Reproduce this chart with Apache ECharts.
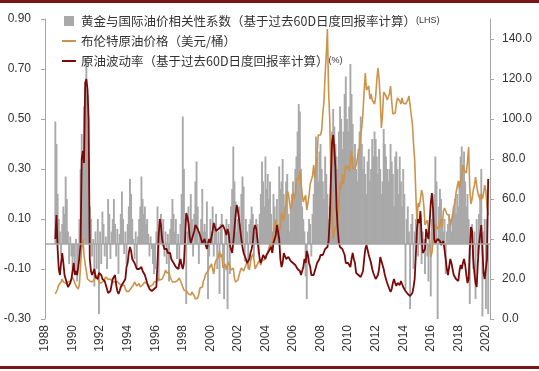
<!DOCTYPE html>
<html>
<head>
<meta charset="utf-8">
<script src="https://cdn.jsdelivr.net/npm/echarts@6/dist/echarts.min.js"></script>
<style>html,body{margin:0;padding:0;background:#fff;}#c{width:539px;height:371px;}</style>
</head>
<body>
<div id="c"></div>
<script>
// Monthly observations starting Oct 1988 (decimal year)
const startYear = 1988.75;
const xTickLabels = [1988,1990,1992,1994,1996,1998,2000,2002,2004,2006,2008,2010,2012,2014,2016,2018,2020];
const leftTicks = [-0.3,-0.1,0.1,0.3,0.5,0.7,0.9];
const rightTicks = [0,20,40,60,80,100,120,140];

const seriesNames = [
  '黄金与国际油价相关性系数（基于过去60D日度回报率计算）(LHS)',
  '布伦特原油价格（美元/桶）',
  '原油波动率（基于过去60D日度回报率计算）(%)'
];

// Gold / oil correlation (LHS)
const corrValues = [
  0.49,0.40,0.20,
  0.10,0.05,-0.05,0.08,0.15,0.12,0.27,0.18,0.05,-0.08,0.03,-0.05,
  -0.10,-0.05,-0.12,0.02,-0.15,-0.08,0.10,0.30,0.44,0.35,0.55,0.62,
  0.74,0.60,0.35,0.15,0.10,-0.05,0.02,-0.17,0.05,-0.10,0.10,-0.28,
  0.05,-0.08,0.13,0.08,-0.05,0.03,-0.10,0.18,0.12,-0.06,0.05,0.10,
  0.18,0.08,-0.05,0.06,-0.12,0.04,0.12,0.21,0.10,-0.04,0.05,-0.08,
  0.08,0.15,0.26,0.20,0.10,0.02,-0.06,0.05,-0.10,0.03,0.10,0.15,
  0.27,0.18,0.12,0.15,0.08,0.10,0.04,-0.05,0.03,-0.02,-0.08,-0.12,
  -0.10,0.05,0.15,-0.15,0.08,0.12,0.03,0.10,-0.05,0.05,-0.08,0.04,
  -0.15,0.06,0.10,0.18,0.12,0.05,0.10,-0.06,0.04,-0.10,0.08,0.20,
  0.51,0.30,0.10,-0.24,0.05,0.15,0.08,0.20,0.10,-0.05,0.12,0.25,
  0.33,0.15,-0.08,0.05,0.10,0.22,0.05,0.08,0.05,0.17,-0.22,-0.05,
  0.10,0.05,0.15,-0.05,0.08,0.12,-0.10,0.05,-0.20,0.08,0.12,-0.08,
  -0.22,0.05,0.10,-0.26,0.08,-0.12,0.15,0.22,0.39,0.25,0.17,0.05,
  0.10,0.15,0.08,0.20,0.27,0.23,-0.07,0.10,0.05,-0.10,0.08,0.10,
  0.15,0.12,-0.05,0.05,0.10,0.08,-0.04,0.12,0.20,0.33,0.25,0.15,
  0.35,0.22,0.28,0.18,0.25,0.12,0.05,0.20,0.15,0.10,0.18,0.08,
  0.31,0.22,0.25,0.34,0.20,0.15,0.25,0.28,0.12,0.05,0.15,0.20,
  0.25,0.18,0.30,0.35,0.45,0.56,0.53,0.30,0.15,0.10,0.05,-0.13,
  -0.22,0.05,0.10,0.08,-0.05,0.12,0.20,0.30,0.43,0.35,0.25,0.37,
  0.40,0.30,0.25,0.18,0.35,0.28,0.20,0.10,0.15,0.30,0.45,0.54,
  0.47,0.40,0.35,0.30,0.45,0.55,0.50,0.38,0.45,0.60,0.67,0.50,
  0.45,0.55,0.72,0.60,0.48,0.35,0.40,0.30,0.25,0.38,0.45,0.51,
  0.40,0.30,0.35,0.28,0.20,0.33,0.38,0.25,0.30,0.42,0.35,0.45,
  0.42,0.35,0.28,0.38,0.30,0.20,0.25,0.46,0.40,0.35,0.30,0.25,
  0.30,0.40,0.33,0.28,0.15,0.35,0.37,0.30,0.20,0.35,0.25,0.15,
  0.30,0.20,-0.18,0.10,0.15,0.05,-0.26,0.08,0.12,-0.10,0.05,0.10,
  0.08,-0.05,0.10,0.12,-0.08,0.05,0.02,-0.12,0.06,-0.05,-0.15,0.05,
  -0.21,0.10,0.15,0.20,0.35,0.25,-0.30,0.15,0.22,0.18,0.10,0.05,
  0.10,-0.12,0.05,0.08,0.12,0.10,0.05,0.12,0.15,0.18,0.12,0.20,
  0.15,0.25,0.35,0.39,0.30,0.37,0.25,0.15,0.20,0.10,-0.24,0.05,
  0.08,-0.10,0.05,-0.22,0.10,-0.05,0.12,0.20,0.30,-0.29,0.05,0.10,
  -0.26,0.10,-0.28
];

// Brent price, USD/bbl (RHS)
const brentValues = [
  12.5,13.5,15.0,
  17.0,16.8,18.5,20.0,18.5,17.5,17.8,17.0,18.5,19.5,19.0,20.0,
  21.0,19.5,18.5,16.5,16.5,15.0,17.5,27.0,36.0,40.0,32.0,27.5,
  24.0,20.0,19.0,19.0,19.0,18.5,19.5,19.8,20.5,22.0,20.5,18.5,
  18.0,18.0,17.5,19.0,19.8,21.0,20.5,19.8,20.5,20.0,19.5,18.5,
  17.5,18.5,18.8,18.7,18.5,17.5,16.7,16.8,16.5,16.8,15.2,13.8,
  14.5,13.8,13.8,15.5,16.2,17.0,18.5,17.8,16.5,16.8,17.8,16.0,
  16.5,17.0,17.0,18.5,18.5,17.5,16.0,16.5,16.5,16.3,17.2,18.5,
  18.5,18.8,20.5,21.5,19.5,19.0,20.0,20.5,22.5,24.5,23.0,24.0,
  23.5,21.0,20.0,18.5,19.5,18.5,19.0,19.0,19.0,20.5,19.5,17.5,
  16.0,14.5,13.5,14.0,14.5,12.5,12.5,12.0,13.5,13.0,11.5,10.0,
  11.0,10.5,12.5,15.5,15.5,16.0,19.0,20.5,22.5,22.0,24.0,25.5,
  25.5,27.5,27.5,22.5,27.5,29.5,28.5,30.5,34.0,31.0,32.5,25.5,
  25.5,27.5,24.5,25.5,28.5,27.5,24.5,25.5,25.5,20.5,18.5,18.5,
  19.5,20.5,24.0,25.5,25.5,24.0,25.5,26.5,28.5,27.5,24.5,28.5,
  31.0,32.5,30.0,25.0,25.5,27.5,28.5,29.5,27.0,29.5,28.5,29.5,
  31.0,30.5,33.5,33.5,37.5,35.0,38.5,43.0,43.0,49.5,43.0,39.5,
  44.0,45.5,53.0,52.0,49.0,54.0,57.5,64.0,62.5,58.5,55.0,57.0,
  63.0,60.0,62.5,70.0,70.0,69.5,74.0,73.5,62.5,58.5,59.5,62.0,
  54.5,58.0,62.0,67.5,67.5,71.5,77.0,70.5,77.0,82.5,92.0,91.5,
  92.0,94.5,103.0,109.0,122.0,132.0,145.0,114.0,100.0,72.0,53.0,40.0,
  44.0,43.0,47.0,50.5,57.5,68.5,65.0,72.5,67.5,73.0,77.0,75.0,
  76.5,74.0,79.0,84.0,75.5,74.5,75.0,77.0,78.0,83.0,86.0,91.5,
  96.5,103.5,114.5,123.0,114.5,113.5,116.5,110.0,112.5,109.5,110.5,107.5,
  111.0,119.5,125.5,120.0,110.0,95.5,102.5,113.5,113.0,111.5,109.5,109.5,
  112.5,116.5,108.5,102.5,103.0,103.0,107.5,110.5,111.0,109.0,107.5,110.5,
  108.0,109.0,107.5,108.0,109.5,111.5,107.0,102.0,97.5,87.5,79.5,62.5,
  48.0,58.0,56.0,60.0,64.5,62.0,56.5,47.0,48.0,49.5,45.0,38.0,
  31.0,33.0,39.0,42.5,47.5,48.5,45.0,46.0,47.0,50.0,45.5,54.0,
  55.5,56.0,52.5,53.5,51.5,46.5,49.0,51.5,56.0,58.0,63.0,64.0,
  69.0,65.5,66.5,72.0,77.0,74.5,74.5,73.0,79.0,86.0,65.0,57.5,
  60.0,64.5,66.5,71.0,70.5,63.0,64.0,59.5,62.5,60.0,63.0,67.0,
  64.0,56.0,52.0
];

// Oil volatility, % (RHS)
const volValues = [
  40,52,35,
  25,22,28,33,28,22,20,18,16,15,18,20,
  24,28,22,24,22,26,31,38,80,84,78,118,
  120,115,100,30,24,22,23,25,21,22,20,23,
  23,22,20,21,19,17,15,13,13,14,17,20,
  20,22,17,14,12.5,14,16,17,18,17,20,26,
  28,33,36,34,30,29,28,27,25,24,25,26,
  26,24,23,22,20,18,17,15,15,14,14,15,
  14,16,28,42,50,47,40,37,35,34,35,33,
  33,33,30,29,28,27,26,25,25,26,30,27,
  25,28,40,53,51,48,41,38,40,42,44,47,
  47,45,44,42,40,38,38,40,37,35,38,40,
  38,37,44,48,46,44,45,45,46,46,45,47,
  46,44,42,45,43,37,35,33,38,45,52,57,
  54,50,45,40,36,33,32,30,28,28,30,33,
  35,38,45,47,45,40,35,30,28,30,32,31,
  30,32,33,34,35,36,33,38,40,42,47,46,
  40,30,26,28,33,32,30,31,31,30,29,28,
  28,27,27,26,25,26,24,22,23,26,30,28,
  34,32,28,26,22,22,22,24,26,28,28,30,
  32,31,32,33,35,34,36,39,50,70,88,92,
  85,75,55,45,38,36,37,35,35,32,28,27,
  28,29,26,30,33,30,28,23,24,22,22,21,
  22,24,30,35,37,36,32,30,28,25,23,22,
  20,19,22,25,31,29,27,25,22,20,18,17,
  15,13.5,15,18,20,18,16.5,18,19,17,19,18,
  16,15,14,13,12.5,12,11.5,11.5,13,16,20,32,
  45,50,48,54,42,33,32,35,45,42,40,48,
  58,63,55,40,38,37,40,41,39,37,38,39,
  38,30,25,22,26,30,28,25,22,21,20,20,
  19,24,27,25,28,30,27,22,18,20,35,46,
  44,30,23,18,16,28,37,42,47,35,23,20,
  25,30,70
];

const pair = arr => arr.map((v, i) => [startYear + i / 12, v]);

const numFont = 'Liberation Sans';
const cjkFont = '"Noto Sans CJK SC", "Liberation Sans", sans-serif';
const axisGray = '#a6a6a6';
// legend icon: a thin horizontal bar centred in a 14x10 box
const lineIcon = 'path://M0,0L0.01,0M0,10L0.01,10M0,4.1L14,4.1L14,5.9L0,5.9Z';

const chart = echarts.init(document.getElementById('c'), null, {renderer: 'canvas'});
chart.setOption({
  animation: false,
  backgroundColor: '#ffffff',
  graphic: [
    {type: 'rect', left: 0, top: 0, shape: {width: 539, height: 3}, style: {fill: '#7b1414'}, silent: true},
    {type: 'rect', left: 0, top: 366, shape: {width: 539, height: 3}, style: {fill: '#7b1414'}, silent: true}
  ],
  grid: {left: 45, right: 49, top: 19, bottom: 52},
  legend: {
    orient: 'vertical',
    left: 57,
    top: 9,
    itemWidth: 14,
    itemHeight: 10,
    itemGap: 6,
    textStyle: {fontFamily: cjkFont, fontSize: 12.5, color: '#333', lineHeight: 14,
      rich: {s: {fontFamily: numFont, fontSize: 9, color: '#333'}}},
    formatter: name => name.replace(/\((LHS|%)\)$/, '{s|($1)}'),
    data: [
      {name: seriesNames[0], icon: 'path://M2,0h10v10h-10zM0,0L0.01,0M14,10L13.99,10'},
      {name: seriesNames[1], icon: lineIcon},
      {name: seriesNames[2], icon: lineIcon}
    ]
  },
  xAxis: {
    type: 'value', min: 1988, max: 2020.3,
    axisLine: {show: false}, axisTick: {show: false}, splitLine: {show: false},
    axisLabel: {customValues: xTickLabels, rotate: 90, margin: 6, fontFamily: numFont, fontSize: 12, color: '#333',
      formatter: v => String(Math.round(v))}
  },
  yAxis: [
    {
      type: 'value', min: -0.3, max: 0.9, position: 'left',
      axisLine: {show: true, lineStyle: {color: axisGray}},
      axisTick: {show: true, customValues: leftTicks, length: 4, lineStyle: {color: axisGray}},
      splitLine: {show: false},
      axisLabel: {customValues: leftTicks, margin: 14, fontFamily: numFont, fontSize: 12, color: '#333',
        formatter: v => v.toFixed(2)}
    },
    {
      type: 'value', min: 0, max: 150, position: 'right',
      axisLine: {show: true, lineStyle: {color: axisGray}},
      axisTick: {show: true, customValues: rightTicks, length: 4, lineStyle: {color: axisGray}},
      splitLine: {show: false},
      axisLabel: {customValues: rightTicks, margin: 12, fontFamily: numFont, fontSize: 12, color: '#333',
        formatter: v => v.toFixed(1)}
    }
  ],
  series: [
    {
      name: seriesNames[0], type: 'bar', yAxisIndex: 0, barWidth: 1.9,
      itemStyle: {color: '#a9a9a9'},
      data: pair(corrValues),
      markLine: {
        silent: true, symbol: 'none', label: {show: false},
        lineStyle: {color: axisGray, width: 1.5, type: 'solid'},
        data: [{yAxis: 0}]
      }
    },
    {
      name: seriesNames[1], type: 'line', yAxisIndex: 1, symbol: 'none', showSymbol: false,
      lineStyle: {color: '#cc934c', width: 1.6}, itemStyle: {color: '#cc934c'},
      data: pair(brentValues)
    },
    {
      name: seriesNames[2], type: 'line', yAxisIndex: 1, symbol: 'none', showSymbol: false,
      lineStyle: {color: '#7a0a0a', width: 1.8}, itemStyle: {color: '#7a0a0a'},
      data: pair(volValues)
    }
  ]
});
</script>
</body>
</html>
